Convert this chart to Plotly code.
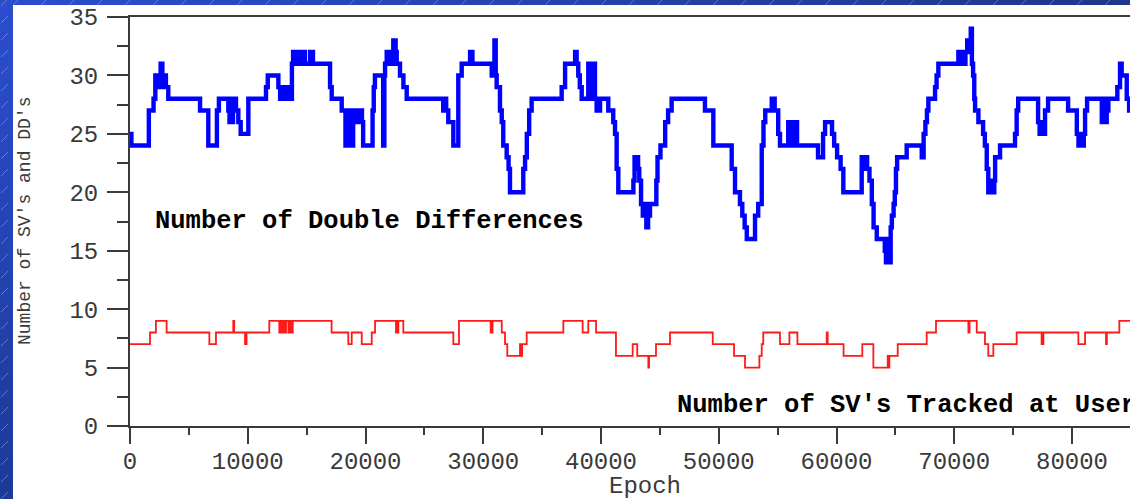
import plotly.graph_objects as go

# Number of double differences formed per epoch (step changes: epoch, count)
dd_epoch = [
    0, 120, 1600, 2000, 2150, 2350, 2500, 2600, 2750, 2850, 2950, 3050, 3250,
    5950, 6650, 7380, 7550, 8350, 8450, 8550, 8650, 8750, 8900, 9000, 9200, 9400, 10050,
    11550, 11700, 12600, 12750, 12900, 13050, 13200, 13350, 13500, 13650, 13750, 13850,
    14000, 14150, 14300, 14450, 14600, 14700, 14850, 15290, 15540,
    16990, 17130, 17980, 18300, 18400, 18550, 18700, 18850, 18950, 19100, 19250, 19400,
    19550, 19700, 19800, 20600, 20700, 20800,
    21500, 21600, 21660, 21800, 21950, 22100, 22200, 22360, 22560, 22650, 22930, 23220, 23500,
    26600, 26750, 26850, 27030, 27460, 27880, 28170, 28880, 29080, 30720, 30850, 30950,
    31060, 31140, 31420, 31570, 31700, 31990, 32150, 32270, 33400, 33550, 33700, 33900, 34110,
    36660, 36950, 37800, 37930, 38070, 38200, 38360, 38920, 39050, 39150, 39300, 39400, 39490,
    39630, 39920, 40620, 41040, 41190, 41330, 41470,
    42750, 42850, 42950, 43050, 43150, 43250, 43400, 43550, 43700, 43850, 44000, 44160,
    44700, 44800, 45050, 45450, 45700, 46000,
    48830, 49540, 51100, 51380, 51800, 52000, 52200, 52380, 53080, 53350, 53650, 53800,
    53950, 54500, 54750, 55050, 55200, 55900, 56050, 56200, 56350, 56500, 56650, 58430,
    58860, 59030, 59620, 59800, 60050, 60350, 60580,
    62140, 62350, 62450, 62600, 62800, 63000, 63150, 63420, 64100, 64200, 64350, 64450,
    64600, 64700, 64850, 64950, 65050, 65150, 65960, 67240, 67400, 67550, 67680, 67800,
    68370, 68500, 68650, 70350, 70500, 70650, 70800, 70950, 71100, 71250, 71400, 71500,
    71600, 71700, 71770, 72050, 72450, 72600, 72760, 72890, 73200, 73300, 73400, 73470,
    73890, 75160, 75300, 75430, 77120, 77250, 77400, 77550, 77710, 77970, 79670, 80410,
    80550, 80700, 80850, 81000, 81110, 81280, 82530, 82650, 82800, 82950, 83090, 83850,
    84080, 84220, 84650, 84850, 85500,
]
dd_count = [
    25, 24, 27, 28, 30, 29, 30, 31, 30, 29, 30, 29, 28,
    27, 24, 27, 28, 27, 26, 28, 26, 27, 28, 27, 26, 25, 28,
    29, 30, 29, 28, 29, 28, 29, 28, 29, 28, 31, 32,
    31, 32, 31, 32, 31, 32, 31, 32, 31,
    29, 28, 27, 24, 27, 24, 27, 24, 27, 26, 27, 26,
    27, 26, 24, 27, 29, 30,
    24, 30, 31, 32, 31, 32, 31, 33, 32, 31, 30, 29, 28,
    27, 28, 27, 26, 24, 30, 31, 32, 31, 30, 31, 33,
    30, 29, 27, 26, 24, 23, 22, 20, 22, 23, 25, 27, 28,
    29, 31, 32, 31, 30, 29, 28, 31, 28, 31, 28, 31, 28,
    27, 28, 27, 26, 25, 22, 20,
    21, 23, 22, 23, 22, 21, 19, 18, 19, 17, 18, 19,
    21, 23, 24, 26, 27, 28,
    27, 24, 22, 20, 19, 18, 17, 16, 18, 19, 24, 26,
    27, 28, 27, 25, 24, 26, 24, 26, 24, 26, 24, 23,
    25, 26, 25, 24, 23, 22, 20,
    23, 22, 23, 22, 21, 19, 17, 16, 15, 14, 16, 14,
    17, 18, 19, 20, 22, 23, 24, 23, 25, 26, 27, 28,
    29, 30, 31, 32, 31, 32, 31, 32, 33, 32, 34, 31,
    30, 28, 27, 26, 25, 24, 22, 20, 21, 20, 21, 23,
    24, 25, 27, 28, 26, 25, 26, 25, 27, 28, 27, 25,
    24, 25, 24, 25, 27, 28, 26, 28, 26, 27, 28, 29,
    31, 30, 28, 27, 27,
]

# Number of satellites tracked at the user receiver (step changes: epoch, count)
sv_epoch = [
    0, 1700, 2200, 3110, 6740, 7300, 8770, 8850, 9770, 9900, 11830,
    12680, 12800, 12900, 13000, 13100, 13250, 13450, 13600, 13700, 13820,
    17120, 18540, 18830, 19680, 20530, 20810, 22590, 22700, 22750, 22790, 23210,
    27460, 27940, 30630, 30700, 30750, 30790, 31570, 31850, 32040, 33120, 33200,
    33300, 33690, 36800, 38440, 38920, 39580, 41270, 42690, 43080, 44020, 44080,
    44670, 45860, 49490, 51300, 52230, 53450, 53650, 53780, 55200, 56000, 56680,
    59170, 59250, 60600, 62190, 63130, 64350, 64420, 64490, 65200, 67660, 68450,
    71200, 71300, 71910, 72610, 72890, 73320, 75300, 77420, 77570, 80540, 81110,
    82890, 82960, 84020, 85500,
]
sv_count = [
    7, 8, 9, 8, 7, 8, 9, 8, 7, 8, 9,
    8, 9, 8, 9, 8, 9, 8, 9, 8, 9,
    8, 7, 8, 7, 8, 9, 8, 9, 8, 9, 8,
    7, 9, 8, 9, 8, 9, 8, 7, 6, 7, 6,
    7, 8, 9, 8, 9, 8, 6, 7, 6, 5, 6,
    7, 8, 7, 6, 5, 6, 7, 8, 7, 8, 7,
    8, 7, 6, 7, 5, 6, 5, 6, 7, 8, 9,
    8, 9, 8, 7, 6, 7, 8, 7, 8, 7, 8,
    7, 8, 9, 9,
]

x_ticks = [0, 10000, 20000, 30000, 40000, 50000, 60000, 70000, 80000]
y_ticks = [0, 5, 10, 15, 20, 25, 30, 35]

W, H = 1130, 499
L, R, T, B = 130, 0, 17, 73
PW, PH = W - L - R, H - T - B


def px(x):
    return (x - L) / PW


def py(y):
    return (H - B - y) / PH


MONO = "Liberation Mono, Courier New, monospace"
INK = "#3a3a3a"

fig = go.Figure()
fig.add_trace(go.Scatter(
    x=dd_epoch, y=dd_count, mode="lines", line=dict(color="#0000ff", width=4.4, shape="hv"),
    showlegend=False, hoverinfo="skip",
))
fig.add_trace(go.Scatter(
    x=sv_epoch, y=sv_count, mode="lines", line=dict(color="#ff1a1a", width=1.8, shape="hv"),
    showlegend=False, hoverinfo="skip",
))

# slide backdrop: blue gradient bands with faint diagonal hatching, white card on top
shapes = []
top_c, bot_c, right_c = (43, 77, 205), (28, 58, 152), (30, 54, 140)


def mix(a, b, t):
    return "rgb(%d,%d,%d)" % tuple(round(a[i] + (b[i] - a[i]) * t) for i in range(3))


nb = 25
for i in range(nb):
    y0, y1 = i * H / nb, (i + 1) * H / nb + 1
    shapes.append(dict(type="rect", xref="paper", yref="paper", x0=px(0), x1=px(13),
                       y0=py(y1), y1=py(y0), fillcolor=mix(top_c, bot_c, i / (nb - 1)),
                       line=dict(width=0), layer="below"))
for i in range(nb):
    x0, x1 = 13 + i * (W - 13) / nb, 13 + (i + 1) * (W - 13) / nb + 1
    shapes.append(dict(type="rect", xref="paper", yref="paper", x0=px(x0), x1=px(x1),
                       y0=py(5), y1=py(0), fillcolor=mix(top_c, right_c, i / (nb - 1)),
                       line=dict(width=0), layer="below"))
hatch = "rgba(140,165,235,0.55)"
for k in range(0, H + 20, 17):
    shapes.append(dict(type="line", xref="paper", yref="paper", x0=px(1), y0=py(k + 6),
                       x1=px(8), y1=py(k - 1), line=dict(color=hatch, width=1), layer="below"))
for k in range(13, W, 28):
    shapes.append(dict(type="line", xref="paper", yref="paper", x0=px(k), y0=py(5),
                       x1=px(k + 5), y1=py(0), line=dict(color=hatch, width=1), layer="below"))
shapes.append(dict(type="rect", xref="paper", yref="paper", x0=px(13), x1=px(W + 5),
                   y0=py(H + 5), y1=py(5), fillcolor="white", line=dict(width=0), layer="below"))

annotations = [
    dict(text="Number of Double Differences", xref="paper", yref="paper",
         x=px(153), y=py(222), xanchor="left", yanchor="middle", showarrow=False,
         font=dict(family=MONO, size=25.5, color="black", weight="bold")),
    dict(text="Number of SV's Tracked at User", xref="paper", yref="paper",
         x=px(675), y=py(405), xanchor="left", yanchor="middle", showarrow=False,
         font=dict(family=MONO, size=25.5, color="black", weight="bold")),
    dict(text="Epoch", xref="paper", yref="paper", x=px(645), y=py(486),
         xanchor="center", yanchor="middle", showarrow=False,
         font=dict(family=MONO, size=24, color=INK)),
    dict(text="Number of SV's and DD's", xref="paper", yref="paper", x=px(25), y=py(221),
         xanchor="center", yanchor="middle", textangle=-90, showarrow=False,
         font=dict(family=MONO, size=18, color=INK)),
]

fig.update_layout(
    width=W, height=H,
    margin=dict(l=L, r=R, t=T, b=B, autoexpand=False),
    paper_bgcolor="rgb(36,66,180)", plot_bgcolor="white",
    shapes=shapes, annotations=annotations, showlegend=False,
    xaxis=dict(
        range=[0, (W - L) * 10000 / 117.75], tickvals=x_ticks, ticktext=[str(v) for v in x_ticks],
        showgrid=False, zeroline=False, showline=True, linecolor=INK, linewidth=2,
        mirror=True, ticks="outside", ticklen=16, tickwidth=2, tickcolor=INK,
        minor=dict(dtick=5000, tick0=0, ticks="outside", ticklen=7, tickwidth=2, tickcolor=INK),
        tickfont=dict(family=MONO, size=24, color=INK), ticklabelstandoff=-4, automargin=False,
    ),
    yaxis=dict(
        range=[0, 35], tickvals=y_ticks, ticktext=[str(v) for v in y_ticks],
        showgrid=False, zeroline=False, showline=True, linecolor=INK, linewidth=2,
        ticks="outside", ticklen=21, tickwidth=2, tickcolor=INK,
        minor=dict(dtick=2.5, tick0=0, ticks="outside", ticklen=11, tickwidth=2, tickcolor=INK),
        tickfont=dict(family=MONO, size=24, color=INK), ticklabelstandoff=4, automargin=False,
    ),
)

fig.write_html("out.html")
